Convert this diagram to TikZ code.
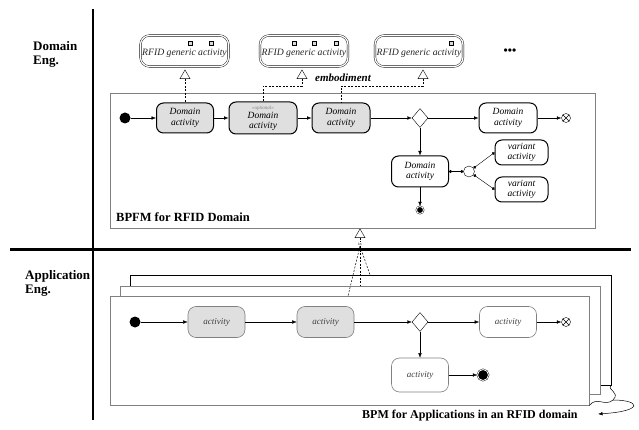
\documentclass[tikz,border=0pt]{standalone}
\usepackage{fontspec}
\setmainfont{Liberation Serif}
\usetikzlibrary{shapes,arrows.meta,positioning}

\begin{document}
\begin{tikzpicture}[x=1pt, y=-1pt, >={Latex[length=4.5pt,width=3.5pt]},
    dact/.style={draw, line width=1pt, rounded corners=7pt, fill=gray!25, align=center,
        font=\fontsize{9.5}{10.5}\selectfont\itshape, minimum width=57pt, minimum height=30pt, inner sep=1pt},
    wact/.style={dact, fill=white},
    vact/.style={wact, minimum width=53pt, minimum height=25pt},
    aact/.style={draw=gray, line width=0.6pt, rounded corners=8pt, fill=gray!25, text=gray!50!black,
        font=\fontsize{9}{10}\selectfont\itshape, minimum width=57pt, minimum height=31pt},
    gen/.style={draw, double, double distance=1.3pt, rounded corners=9pt, minimum width=88pt, minimum height=31pt,
        font=\fontsize{9.7}{10}\selectfont\itshape, text=gray!30!black, inner sep=0pt, text height=10pt, text depth=0pt},
    sq/.style={draw, fill=gray!30, minimum size=4pt, inner sep=0pt, line width=0.4pt},
    tri/.style={draw, fill=white, regular polygon, regular polygon sides=3, minimum size=11.5pt, inner sep=0pt},
    startdot/.style={circle, fill=black, minimum size=11pt, inner sep=0pt},
    flowend/.style={circle, draw, minimum size=9pt, inner sep=0pt},
    actend/.style={circle, draw, fill=black, double=white, double distance=0.8pt, minimum size=7pt, inner sep=0pt},
    decision/.style={draw, diamond, minimum width=16pt, minimum height=19pt, inner sep=0pt},
    dashline/.style={dash pattern=on 2pt off 1.5pt, line width=0.5pt},
    dotline/.style={{Circle[length=3pt]}-{Circle[length=3pt]}},
    lane/.style={font=\fontsize{13}{14}\selectfont\bfseries, align=left, inner sep=0pt, anchor=north west},
    frame/.style={draw=gray, fill=white, line width=0.8pt, inner sep=0pt},
]
    \useasboundingbox (0,0) rectangle (639,430);

    % lane titles
    \node [lane] (deng) at (33,41) {Domain\\Eng.};
    \node [lane] (aeng) at (25,270) {Application\\Eng.};

    % domain model
    \node [frame, minimum width=485pt, minimum height=135pt] (bpfm) at (352.5,160.5) {};
    \node [font=\fontsize{12.5}{13}\selectfont\bfseries, anchor=base west, inner sep=0pt] (bpfmlbl) at (116,222) {BPFM for RFID Domain};

    \node [gen] (gen1) at (184.5,51) {RFID generic activity};
    \node [gen] (gen2) at (304,51) {RFID generic activity};
    \node [gen] (gen3) at (419,51) {RFID generic activity};
    \node [sq] (sq1a) at (190,43) {};
    \node [sq] (sq1b) at (211,43) {};
    \node [sq] (sq2a) at (294,43) {};
    \node [sq] (sq2b) at (314,43) {};
    \node [sq] (sq2c) at (336,43) {};
    \node [sq] (sq3a) at (451,43) {};
    \node [font=\fontsize{12}{12}\selectfont\bfseries] (more) at (510,52) {•••};

    \node [tri] (tri1) at (185,75.7) {};
    \node [tri] (tri2) at (302,75.7) {};
    \node [tri] (tri3) at (423,75.7) {};
    \node [font=\fontsize{11}{11}\selectfont\bfseries\itshape] (emb) at (343,78) {embodiment};

    \node [startdot] (dstart) at (125,118) {};
    \node [dact] (dact1) at (185,118) {Domain\\activity};
    \node [dact, minimum width=68pt, minimum height=32pt, font=\fontsize{9.5}{9.5}\selectfont\itshape] (dact2) at (263,118)
        {{\fontsize{5}{5}\selectfont\textcolor{gray}{\textless\textless optional\textgreater\textgreater}}\\Domain\\activity};
    \node [dact, minimum width=58pt] (dact3) at (341,118) {Domain\\activity};
    \node [decision] (ddec) at (420,118) {};
    \node [wact, minimum width=58pt] (dact4) at (508,118) {Domain\\activity};
    \node [flowend] (dend) at (566,118) {};
    \node [wact, minimum height=31pt] (dact5) at (420,171.5) {Domain\\activity};
    \node [circle, draw, minimum size=11pt, inner sep=0pt] (dvp) at (469,171.5) {};
    \node [vact] (dvar1) at (521.5,152.5) {variant\\activity};
    \node [vact] (dvar2) at (521.5,189.5) {variant\\activity};
    \node [actend] (dfin) at (420,210) {};

    \draw [dashline] (tri1.south) -- (dact1.north);
    \coordinate (bend2) at (302,86);
    \draw [dashline] (tri2.south) -- (bend2) -| (dact2.north);
    \coordinate (bend3) at (423,86);
    \draw [dashline] (tri3.south) -- (bend3) -| (dact3.north);

    \draw [->] (dstart) -- (dact1);
    \draw [->] (dact1) -- (dact2);
    \draw [->] (dact2) -- (dact3);
    \draw [->] (dact3) -- (ddec);
    \draw [->] (ddec) -- (dact4);
    \draw [->] (dact4) -- (dend);
    \draw (dend.north east) -- (dend.south west) (dend.north west) -- (dend.south east);
    \draw [->] (ddec) -- (dact5);
    \draw [->] (dact5) -- (dfin);
    \draw [dotline] (dact5) -- (dvp);
    \draw [dotline] (dvp) -- (dvar1.west);
    \draw [dotline] (dvp) -- (dvar2.west);

    % application models
    \node [frame, draw=black, line width=0.6pt, minimum width=481pt, minimum height=110pt] (app3) at (370.5,330) {};
    \node [frame, minimum width=480pt, minimum height=108pt] (app2) at (360,340) {};
    \node [frame, minimum width=479pt, minimum height=109pt] (app1) at (349.5,350.5) {};

    \node [tri] (tri4) at (360,234.7) {};
    \node [font=\fontsize{4}{4}\selectfont, inner sep=0.5pt] (inlbl) at (360,244) {in};
    \coordinate (f1) at (348,296);
    \coordinate (f2) at (360,286);
    \coordinate (f3) at (370,275);
    \draw [dashline] (tri4.south) -- (inlbl);
    \draw [dashline] (inlbl.south) -- (f1);
    \draw [dashline] (inlbl.south) -- (f2);
    \draw [dashline] (inlbl.south) -- (f3);

    \node [startdot] (astart) at (135,322) {};
    \node [aact] (aact1) at (216.5,322) {activity};
    \node [aact] (aact2) at (325.5,322) {activity};
    \node [decision] (adec) at (420,322) {};
    \node [aact, fill=white] (aact3) at (508,322) {activity};
    \node [flowend] (aend) at (566,322) {};
    \node [aact, fill=white, minimum height=34pt] (aact4) at (420,375) {activity};
    \node [actend, minimum size=11pt] (afin) at (483,375) {};

    \draw [->] (astart) -- (aact1);
    \draw [->] (aact1) -- (aact2);
    \draw [->] (aact2) -- (adec);
    \draw [->] (adec) -- (aact3);
    \draw [->] (aact3) -- (aend);
    \draw (aend.north east) -- (aend.south west) (aend.north west) -- (aend.south east);
    \draw [->] (adec) -- (aact4);
    \draw [->] (aact4) -- (afin);

    \node [font=\fontsize{12}{12}\selectfont\bfseries, anchor=base west, inner sep=0pt] (bpmlbl) at (362,418) {BPM for Applications in an RFID domain};
    \coordinate (bracetip) at (613,400);
    \coordinate (arrtip) at (598,414);
    \draw [line width=0.5pt] (app1.south east) .. controls (597,396) and (605,407) .. (bracetip);
    \draw [line width=0.5pt] (bracetip) .. controls (621,392) and (606,390) .. (app3.south east);
    \draw [->, line width=0.5pt] (bracetip) .. controls (640,400) and (645,411) .. (arrtip);

    % lane borders
    \draw [line width=2pt] (93,9) -- (93,420);
    \draw [line width=3pt] (10,249) -- (631,249);
\end{tikzpicture}
\end{document}
